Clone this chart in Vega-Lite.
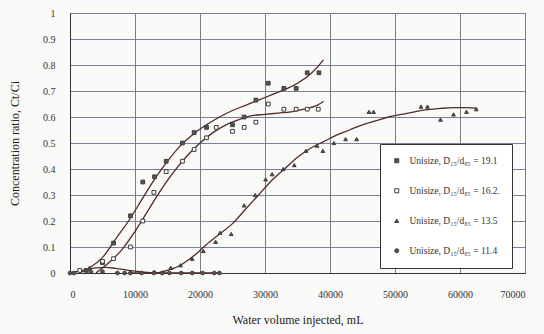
{
  "$schema": "https://vega.github.io/schema/vega-lite/v6.json",
  "width": 455,
  "height": 260,
  "autosize": "none",
  "padding": {"left": 70, "top": 13, "right": 19, "bottom": 61},
  "background": "#f9f9f7",
  "config": {
    "font": "Liberation Serif",
    "view": {"stroke": "#555", "strokeWidth": 1},
    "axis": {
      "labelFont": "Liberation Serif",
      "titleFont": "Liberation Serif",
      "labelFontSize": 10,
      "titleFontSize": 12,
      "titleFontWeight": "normal",
      "labelColor": "#333",
      "titleColor": "#222",
      "ticks": false,
      "domainColor": "#333",
      "gridOpacity": 1,
      "labelOverlap": false
    },
    "legend": {
      "labelFont": "Liberation Serif",
      "labelFontSize": 9.5,
      "labelColor": "#333",
      "labelLimit": 200
    }
  },
  "datasets": {
    "pts": [
      {"series": "Unisize, D₁₅/d₈₅ = 19.1", "v": 2500, "c": 0.01},
      {"series": "Unisize, D₁₅/d₈₅ = 19.1", "v": 5000, "c": 0.04},
      {"series": "Unisize, D₁₅/d₈₅ = 19.1", "v": 6700, "c": 0.115},
      {"series": "Unisize, D₁₅/d₈₅ = 19.1", "v": 9300, "c": 0.22},
      {"series": "Unisize, D₁₅/d₈₅ = 19.1", "v": 11200, "c": 0.35},
      {"series": "Unisize, D₁₅/d₈₅ = 19.1", "v": 13000, "c": 0.37},
      {"series": "Unisize, D₁₅/d₈₅ = 19.1", "v": 14800, "c": 0.43},
      {"series": "Unisize, D₁₅/d₈₅ = 19.1", "v": 17300, "c": 0.5},
      {"series": "Unisize, D₁₅/d₈₅ = 19.1", "v": 19100, "c": 0.54},
      {"series": "Unisize, D₁₅/d₈₅ = 19.1", "v": 21000, "c": 0.56},
      {"series": "Unisize, D₁₅/d₈₅ = 19.1", "v": 25000, "c": 0.57},
      {"series": "Unisize, D₁₅/d₈₅ = 19.1", "v": 26800, "c": 0.6},
      {"series": "Unisize, D₁₅/d₈₅ = 19.1", "v": 28600, "c": 0.665},
      {"series": "Unisize, D₁₅/d₈₅ = 19.1", "v": 30500, "c": 0.73},
      {"series": "Unisize, D₁₅/d₈₅ = 19.1", "v": 32900, "c": 0.71},
      {"series": "Unisize, D₁₅/d₈₅ = 19.1", "v": 34800, "c": 0.71},
      {"series": "Unisize, D₁₅/d₈₅ = 19.1", "v": 36500, "c": 0.77},
      {"series": "Unisize, D₁₅/d₈₅ = 19.1", "v": 38300, "c": 0.77},

      {"series": "Unisize, D₁₅/d₈₅ = 16.2.", "v": 1500, "c": 0.01},
      {"series": "Unisize, D₁₅/d₈₅ = 16.2.", "v": 5000, "c": 0.045},
      {"series": "Unisize, D₁₅/d₈₅ = 16.2.", "v": 6700, "c": 0.055},
      {"series": "Unisize, D₁₅/d₈₅ = 16.2.", "v": 9300, "c": 0.1},
      {"series": "Unisize, D₁₅/d₈₅ = 16.2.", "v": 11200, "c": 0.2},
      {"series": "Unisize, D₁₅/d₈₅ = 16.2.", "v": 12900, "c": 0.31},
      {"series": "Unisize, D₁₅/d₈₅ = 16.2.", "v": 14800, "c": 0.39},
      {"series": "Unisize, D₁₅/d₈₅ = 16.2.", "v": 17300, "c": 0.43},
      {"series": "Unisize, D₁₅/d₈₅ = 16.2.", "v": 19100, "c": 0.475},
      {"series": "Unisize, D₁₅/d₈₅ = 16.2.", "v": 21000, "c": 0.52},
      {"series": "Unisize, D₁₅/d₈₅ = 16.2.", "v": 22500, "c": 0.56},
      {"series": "Unisize, D₁₅/d₈₅ = 16.2.", "v": 25000, "c": 0.545},
      {"series": "Unisize, D₁₅/d₈₅ = 16.2.", "v": 26800, "c": 0.56},
      {"series": "Unisize, D₁₅/d₈₅ = 16.2.", "v": 28600, "c": 0.58},
      {"series": "Unisize, D₁₅/d₈₅ = 16.2.", "v": 30500, "c": 0.65},
      {"series": "Unisize, D₁₅/d₈₅ = 16.2.", "v": 32900, "c": 0.63},
      {"series": "Unisize, D₁₅/d₈₅ = 16.2.", "v": 34800, "c": 0.63},
      {"series": "Unisize, D₁₅/d₈₅ = 16.2.", "v": 36500, "c": 0.63},
      {"series": "Unisize, D₁₅/d₈₅ = 16.2.", "v": 38200, "c": 0.63},

      {"series": "Unisize, D₁₅/d₈₅ = 13.5", "v": 3000, "c": 0.02},
      {"series": "Unisize, D₁₅/d₈₅ = 13.5", "v": 13000, "c": 0.005},
      {"series": "Unisize, D₁₅/d₈₅ = 13.5", "v": 15500, "c": 0.02},
      {"series": "Unisize, D₁₅/d₈₅ = 13.5", "v": 17000, "c": 0.03},
      {"series": "Unisize, D₁₅/d₈₅ = 13.5", "v": 18800, "c": 0.055},
      {"series": "Unisize, D₁₅/d₈₅ = 13.5", "v": 20500, "c": 0.085},
      {"series": "Unisize, D₁₅/d₈₅ = 13.5", "v": 22400, "c": 0.12},
      {"series": "Unisize, D₁₅/d₈₅ = 13.5", "v": 23100, "c": 0.155},
      {"series": "Unisize, D₁₅/d₈₅ = 13.5", "v": 24800, "c": 0.15},
      {"series": "Unisize, D₁₅/d₈₅ = 13.5", "v": 26800, "c": 0.26},
      {"series": "Unisize, D₁₅/d₈₅ = 13.5", "v": 28500, "c": 0.3},
      {"series": "Unisize, D₁₅/d₈₅ = 13.5", "v": 30100, "c": 0.36},
      {"series": "Unisize, D₁₅/d₈₅ = 13.5", "v": 31100, "c": 0.38},
      {"series": "Unisize, D₁₅/d₈₅ = 13.5", "v": 32800, "c": 0.4},
      {"series": "Unisize, D₁₅/d₈₅ = 13.5", "v": 34500, "c": 0.415},
      {"series": "Unisize, D₁₅/d₈₅ = 13.5", "v": 36300, "c": 0.47},
      {"series": "Unisize, D₁₅/d₈₅ = 13.5", "v": 38000, "c": 0.49},
      {"series": "Unisize, D₁₅/d₈₅ = 13.5", "v": 38900, "c": 0.47},
      {"series": "Unisize, D₁₅/d₈₅ = 13.5", "v": 40600, "c": 0.5},
      {"series": "Unisize, D₁₅/d₈₅ = 13.5", "v": 42400, "c": 0.515},
      {"series": "Unisize, D₁₅/d₈₅ = 13.5", "v": 44100, "c": 0.515},
      {"series": "Unisize, D₁₅/d₈₅ = 13.5", "v": 46000, "c": 0.62},
      {"series": "Unisize, D₁₅/d₈₅ = 13.5", "v": 46700, "c": 0.62},
      {"series": "Unisize, D₁₅/d₈₅ = 13.5", "v": 54000, "c": 0.64},
      {"series": "Unisize, D₁₅/d₈₅ = 13.5", "v": 55000, "c": 0.64},
      {"series": "Unisize, D₁₅/d₈₅ = 13.5", "v": 57000, "c": 0.59},
      {"series": "Unisize, D₁₅/d₈₅ = 13.5", "v": 59000, "c": 0.61},
      {"series": "Unisize, D₁₅/d₈₅ = 13.5", "v": 61000, "c": 0.62},
      {"series": "Unisize, D₁₅/d₈₅ = 13.5", "v": 62500, "c": 0.63},

      {"series": "Unisize, D₁₅/d₈₅ = 11.4", "v": 0, "c": 0},
      {"series": "Unisize, D₁₅/d₈₅ = 11.4", "v": 600, "c": 0},
      {"series": "Unisize, D₁₅/d₈₅ = 11.4", "v": 3200, "c": 0.005},
      {"series": "Unisize, D₁₅/d₈₅ = 11.4", "v": 5000, "c": 0.005},
      {"series": "Unisize, D₁₅/d₈₅ = 11.4", "v": 7300, "c": 0},
      {"series": "Unisize, D₁₅/d₈₅ = 11.4", "v": 8400, "c": 0},
      {"series": "Unisize, D₁₅/d₈₅ = 11.4", "v": 9300, "c": 0},
      {"series": "Unisize, D₁₅/d₈₅ = 11.4", "v": 11000, "c": 0},
      {"series": "Unisize, D₁₅/d₈₅ = 11.4", "v": 12900, "c": 0},
      {"series": "Unisize, D₁₅/d₈₅ = 11.4", "v": 14200, "c": 0},
      {"series": "Unisize, D₁₅/d₈₅ = 11.4", "v": 15300, "c": 0},
      {"series": "Unisize, D₁₅/d₈₅ = 11.4", "v": 17100, "c": 0},
      {"series": "Unisize, D₁₅/d₈₅ = 11.4", "v": 18800, "c": 0},
      {"series": "Unisize, D₁₅/d₈₅ = 11.4", "v": 20400, "c": 0},
      {"series": "Unisize, D₁₅/d₈₅ = 11.4", "v": 22200, "c": 0},
      {"series": "Unisize, D₁₅/d₈₅ = 11.4", "v": 23000, "c": 0}
    ],
    "fits": [
      {"curve": "a", "v": 1500, "c": 0.0},
      {"curve": "a", "v": 3000, "c": 0.02},
      {"curve": "a", "v": 5000, "c": 0.06},
      {"curve": "a", "v": 7000, "c": 0.13},
      {"curve": "a", "v": 9000, "c": 0.2},
      {"curve": "a", "v": 11000, "c": 0.28},
      {"curve": "a", "v": 13000, "c": 0.36},
      {"curve": "a", "v": 15000, "c": 0.43},
      {"curve": "a", "v": 17000, "c": 0.49},
      {"curve": "a", "v": 19000, "c": 0.535},
      {"curve": "a", "v": 21000, "c": 0.57},
      {"curve": "a", "v": 23000, "c": 0.6},
      {"curve": "a", "v": 25000, "c": 0.625},
      {"curve": "a", "v": 27000, "c": 0.645},
      {"curve": "a", "v": 29000, "c": 0.665},
      {"curve": "a", "v": 31000, "c": 0.685},
      {"curve": "a", "v": 33000, "c": 0.705},
      {"curve": "a", "v": 35000, "c": 0.73},
      {"curve": "a", "v": 37000, "c": 0.765},
      {"curve": "a", "v": 39000, "c": 0.82},

      {"curve": "b", "v": 4000, "c": 0.0},
      {"curve": "b", "v": 6000, "c": 0.04},
      {"curve": "b", "v": 8000, "c": 0.09},
      {"curve": "b", "v": 10000, "c": 0.16},
      {"curve": "b", "v": 12000, "c": 0.24},
      {"curve": "b", "v": 14000, "c": 0.32},
      {"curve": "b", "v": 16000, "c": 0.39},
      {"curve": "b", "v": 18000, "c": 0.45},
      {"curve": "b", "v": 20000, "c": 0.5},
      {"curve": "b", "v": 22000, "c": 0.54},
      {"curve": "b", "v": 24000, "c": 0.57},
      {"curve": "b", "v": 26000, "c": 0.59},
      {"curve": "b", "v": 28000, "c": 0.605},
      {"curve": "b", "v": 30000, "c": 0.61},
      {"curve": "b", "v": 32000, "c": 0.615},
      {"curve": "b", "v": 34000, "c": 0.62},
      {"curve": "b", "v": 36000, "c": 0.63},
      {"curve": "b", "v": 38000, "c": 0.645},
      {"curve": "b", "v": 39000, "c": 0.66},

      {"curve": "c", "v": 9000, "c": 0.0},
      {"curve": "c", "v": 13000, "c": 0.0},
      {"curve": "c", "v": 15000, "c": 0.01},
      {"curve": "c", "v": 17000, "c": 0.03},
      {"curve": "c", "v": 19000, "c": 0.065},
      {"curve": "c", "v": 21000, "c": 0.11},
      {"curve": "c", "v": 23000, "c": 0.15},
      {"curve": "c", "v": 25000, "c": 0.19},
      {"curve": "c", "v": 27000, "c": 0.245},
      {"curve": "c", "v": 29000, "c": 0.3},
      {"curve": "c", "v": 31000, "c": 0.355},
      {"curve": "c", "v": 33000, "c": 0.4},
      {"curve": "c", "v": 35000, "c": 0.445},
      {"curve": "c", "v": 37000, "c": 0.48},
      {"curve": "c", "v": 39000, "c": 0.505},
      {"curve": "c", "v": 41000, "c": 0.53},
      {"curve": "c", "v": 43000, "c": 0.55},
      {"curve": "c", "v": 45000, "c": 0.57},
      {"curve": "c", "v": 47000, "c": 0.585},
      {"curve": "c", "v": 49000, "c": 0.6},
      {"curve": "c", "v": 51000, "c": 0.61},
      {"curve": "c", "v": 53000, "c": 0.62},
      {"curve": "c", "v": 55000, "c": 0.628},
      {"curve": "c", "v": 57000, "c": 0.633},
      {"curve": "c", "v": 59000, "c": 0.636},
      {"curve": "c", "v": 61000, "c": 0.636},
      {"curve": "c", "v": 62500, "c": 0.634},

      {"curve": "d", "v": 0, "c": 0.0},
      {"curve": "d", "v": 2000, "c": 0.01},
      {"curve": "d", "v": 4000, "c": 0.02},
      {"curve": "d", "v": 5500, "c": 0.022},
      {"curve": "d", "v": 7000, "c": 0.018},
      {"curve": "d", "v": 9000, "c": 0.01},
      {"curve": "d", "v": 11000, "c": 0.004},
      {"curve": "d", "v": 13000, "c": 0.0},
      {"curve": "d", "v": 23000, "c": 0.0}
    ]
  },
  "encoding": {
    "x": {
      "field": "v", "type": "quantitative",
      "scale": {"domain": [0, 70000], "nice": false},
      "axis": {
        "values": [0, 10000, 20000, 30000, 40000, 50000, 60000, 70000],
        "format": "d",
        "title": "Water volume injected, mL",
        "labelPadding": 16,
        "titlePadding": 15,
        "gridColor": "#7d7d7d",
        "gridWidth": 1
      }
    },
    "y": {
      "field": "c", "type": "quantitative",
      "scale": {"domain": [0, 1], "nice": false},
      "axis": {
        "values": [0, 0.1, 0.2, 0.3, 0.4, 0.5, 0.6, 0.7, 0.8, 0.9, 1],
        "format": "~g",
        "title": "Concentration ratio, Ct/Ci",
        "labelPadding": 15,
        "titlePadding": 21,
        "gridColor": "#7b7f9c",
        "gridWidth": 1
      }
    }
  },
  "layer": [
    {
      "data": {"name": "fits"},
      "mark": {"type": "line", "interpolate": "monotone", "color": "#552a2a", "strokeWidth": 1.3},
      "encoding": {
        "detail": {"field": "curve"}
      }
    },
    {
      "data": {"name": "pts"},
      "mark": {"type": "point", "filled": false, "strokeWidth": 1, "opacity": 1},
      "encoding": {
        "shape": {
          "field": "series", "type": "nominal",
          "scale": {
            "domain": ["Unisize, D₁₅/d₈₅ = 19.1", "Unisize, D₁₅/d₈₅ = 16.2.", "Unisize, D₁₅/d₈₅ = 13.5", "Unisize, D₁₅/d₈₅ = 11.4"],
            "range": ["square", "square", "triangle-up", "circle"]
          },
          "legend": {
            "title": null,
            "orient": "none",
            "legendX": 310,
            "legendY": 131,
            "fillColor": "#ffffff",
            "strokeColor": "#333333",
            "padding": 12,
            "rowPadding": 19,
            "symbolSize": 16,
            "symbolStrokeWidth": 1,
            "labelOffset": 8
          }
        },
        "fill": {
          "field": "series", "type": "nominal",
          "scale": {
            "domain": ["Unisize, D₁₅/d₈₅ = 19.1", "Unisize, D₁₅/d₈₅ = 16.2.", "Unisize, D₁₅/d₈₅ = 13.5", "Unisize, D₁₅/d₈₅ = 11.4"],
            "range": ["#555555", "#ffffff", "#555555", "#555555"]
          },
          "legend": {
            "title": null,
            "orient": "none",
            "legendX": 310,
            "legendY": 131,
            "fillColor": "#ffffff",
            "strokeColor": "#333333",
            "padding": 12,
            "rowPadding": 19,
            "symbolSize": 16,
            "symbolStrokeWidth": 1,
            "labelOffset": 8
          }
        },
        "stroke": {
          "field": "series", "type": "nominal",
          "scale": {
            "domain": ["Unisize, D₁₅/d₈₅ = 19.1", "Unisize, D₁₅/d₈₅ = 16.2.", "Unisize, D₁₅/d₈₅ = 13.5", "Unisize, D₁₅/d₈₅ = 11.4"],
            "range": ["#3c3c3c", "#3c3c3c", "#3c3c3c", "#3c3c3c"]
          },
          "legend": {
            "title": null,
            "orient": "none",
            "legendX": 310,
            "legendY": 131,
            "fillColor": "#ffffff",
            "strokeColor": "#333333",
            "padding": 12,
            "rowPadding": 19,
            "symbolSize": 16,
            "symbolStrokeWidth": 1,
            "labelOffset": 8
          }
        },
        "size": {"value": 14}
      }
    }
  ]
}
